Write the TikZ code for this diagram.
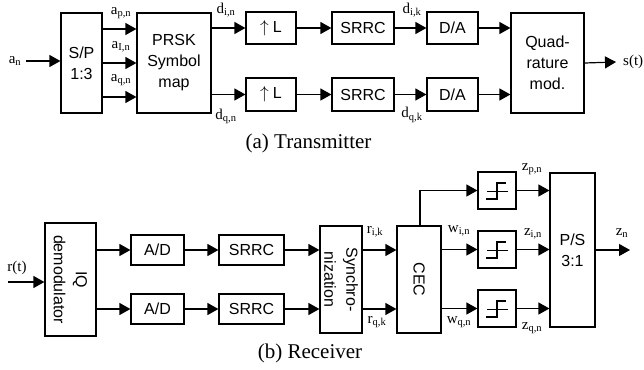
\documentclass[tikz,border=0pt]{standalone}
\usepackage{fontspec}
\setmainfont{Liberation Serif}
\newfontfamily\boxfont{Liberation Sans}
\usetikzlibrary{arrows.meta}
\newcommand{\lbsub}[2]{#1\textsubscript{#2}}
\tikzset{
  blk/.style={draw, line width=1.2pt, inner sep=0pt, align=center,
    font=\boxfont\fontsize{16}{21}\selectfont},
  txt/.style={inner sep=0pt, align=center, font=\boxfont\fontsize{16}{22}\selectfont},
  arr/.style={line width=1.2pt, -{Triangle[length=11pt,width=12pt]}},
  ln/.style={line width=1.2pt},
  qsym/.style={line width=1.1pt},
  lbl/.style={inner sep=0pt, font=\fontsize{15}{17}\selectfont},
  captxt/.style={inner sep=0pt, font=\fontsize{21}{24}\selectfont},
}
\begin{document}
\begin{tikzpicture}[x=1pt,y=-1pt]
\useasboundingbox (0,0) rectangle (644,369);

% ---------------- Transmitter ----------------
\node[blk, minimum width=41pt, minimum height=100pt] (sp) at (81.5,63) {S/P\\1:3};
\node[blk, minimum width=74pt, minimum height=100pt] (prsk) at (174,63) {PRSK\\Symbol\\map};
\node[blk, minimum width=50pt, minimum height=32pt] (upL1) at (271,28) {$\uparrow$\hspace{4pt}L};
\node[blk, minimum width=50pt, minimum height=33pt] (upL2) at (271,94.5) {$\uparrow$\hspace{4pt}L};
\node[blk, minimum width=62pt, minimum height=32pt] (srrc1) at (363,28) {SRRC};
\node[blk, minimum width=62pt, minimum height=33pt] (srrc2) at (363,94.5) {SRRC};
\node[blk, minimum width=51pt, minimum height=32pt] (da1) at (452.5,28) {D/A};
\node[blk, minimum width=51pt, minimum height=33pt] (da2) at (452.5,94.5) {D/A};
\node[blk, minimum width=73pt, minimum height=100pt] (quad) at (547.5,63) {Quad-\\rature\\mod.};

\node[lbl] (an) at (15,61) {\lbsub{a}{n}};
\draw[arr] ([xshift=5pt]an.east) -- (sp.west |- an.east);
\draw[arr] ([yshift=34pt]sp.east) -- ([yshift=34pt]prsk.west);
\draw[arr] (sp.east) -- (prsk.west);
\draw[arr] ([yshift=-34pt]sp.east) -- ([yshift=-34pt]prsk.west);
\node[lbl] (apn) at (121,13) {\lbsub{a}{p,n}};
\node[lbl] (aIn) at (121,47) {\lbsub{a}{I,n}};
\node[lbl] (aqn) at (121,80) {\lbsub{a}{q,n}};

\draw[arr] (prsk.east |- upL1) -- (upL1.west);
\draw[arr] (prsk.east |- upL2) -- (upL2.west);
\node[lbl] (din) at (226,10) {\lbsub{d}{i,n}};
\node[lbl] (dqn) at (226,116) {\lbsub{d}{q,n}};
\draw[arr] (upL1.east) -- (srrc1.west);
\draw[arr] (upL2.east) -- (srrc2.west);
\draw[arr] (srrc1.east) -- (da1.west);
\draw[arr] (srrc2.east) -- (da2.west);
\node[lbl] (dik) at (412,10) {\lbsub{d}{i,k}};
\node[lbl] (dqk) at (412,115) {\lbsub{d}{q,k}};
\draw[arr] (da1.east) -- (quad.west |- da1.east);
\draw[arr] (da2.east) -- (quad.west |- da2.east);
\node[lbl, anchor=west] (st) at (623,62) {s(t)};
\draw[arr] (quad.east) -- ([xshift=-7pt]st.west);

\node[captxt] (capA) at (308.5,143) {(a) Transmitter};

% ---------------- Receiver ----------------
\node[blk, minimum width=51pt, minimum height=113pt] (iq) at (70.5,279.5) {};
\node[txt, rotate=-90] (iqT) at (iq) {IQ\\demodulator};
\node[blk, minimum width=53pt, minimum height=30pt] (ad1) at (157.5,250) {A/D};
\node[blk, minimum width=53pt, minimum height=30pt] (ad2) at (157.5,309) {A/D};
\node[blk, minimum width=65pt, minimum height=30pt] (rs1) at (251.5,250) {SRRC};
\node[blk, minimum width=65pt, minimum height=30pt] (rs2) at (251.5,309) {SRRC};
\node[blk, minimum width=42pt, minimum height=107pt] (sync) at (341,279.5) {};
\node[txt, rotate=-90] (syncT) at (sync) {Synchro-\\nization};
\node[blk, minimum width=44pt, minimum height=107pt] (cec) at (419,279.5) {};
\node[txt, rotate=-90] (cecT) at (cec) {CEC};
\node[blk, minimum width=38pt, minimum height=37pt] (q1) at (497,190.5) {};
\node[blk, minimum width=38pt, minimum height=37pt] (q2) at (497,249.5) {};
\node[blk, minimum width=38pt, minimum height=37pt] (q3) at (497,308.5) {};
\node[blk, minimum width=45pt, minimum height=154pt] (ps) at (572.5,250) {P/S\\3:1};

\foreach \q in {q1,q2,q3}{
  \draw[qsym] ([shift={(-10pt,-1pt)}]\q.center) -- ([shift={(11pt,-1pt)}]\q.center);
  \draw[qsym] ([shift={(-11pt,-8.5pt)}]\q.center) -- ([shift={(0pt,-8.5pt)}]\q.center)
     -- ([shift={(0pt,7.5pt)}]\q.center) -- ([shift={(9pt,7.5pt)}]\q.center);
}

\node[lbl] (rt) at (17,268) {r(t)};
\coordinate (rS) at (8,282);
\draw[arr] (rS) -- (iq.west |- rS);
\draw[arr] (iq.east |- ad1) -- (ad1.west);
\draw[arr] (iq.east |- ad2) -- (ad2.west);
\draw[arr] (ad1.east) -- (rs1.west);
\draw[arr] (ad2.east) -- (rs2.west);
\draw[arr] (rs1.east) -- (sync.west |- rs1.east);
\draw[arr] (rs2.east) -- (sync.west |- rs2.east);
\draw[arr] (sync.east |- rs1.east) -- (cec.west |- rs1.east);
\draw[arr] (sync.east |- rs2.east) -- (cec.west |- rs2.east);
\node[lbl] (rik) at (375,232) {\lbsub{r}{i,k}};
\node[lbl] (rqk) at (377,322) {\lbsub{r}{q,k}};
\draw[arr] ([xshift=1pt]cec.north) |- (q1.west);
\draw[arr] (cec.east |- q2) -- (q2.west);
\draw[arr] (cec.east |- q3) -- (q3.west);
\node[lbl] (win) at (459,231) {\lbsub{w}{i,n}};
\node[lbl] (wqn) at (459,322) {\lbsub{w}{q,n}};
\draw[arr] (q1.east) -- (ps.west |- q1.east);
\draw[arr] (q2.east) -- (ps.west |- q2.east);
\draw[arr] (q3.east) -- (ps.west |- q3.east);
\node[lbl] (zpn) at (532,169) {\lbsub{z}{p,n}};
\node[lbl] (zin) at (533,234) {\lbsub{z}{i,n}};
\node[lbl] (zqn) at (532,328) {\lbsub{z}{q,n}};
\coordinate (znE) at (630,250);
\draw[arr] (ps.east) -- (znE);
\node[lbl] (zn) at (622,233) {\lbsub{z}{n}};

\node[captxt] (capB) at (310,353) {(b) Receiver};
\end{tikzpicture}
\end{document}
